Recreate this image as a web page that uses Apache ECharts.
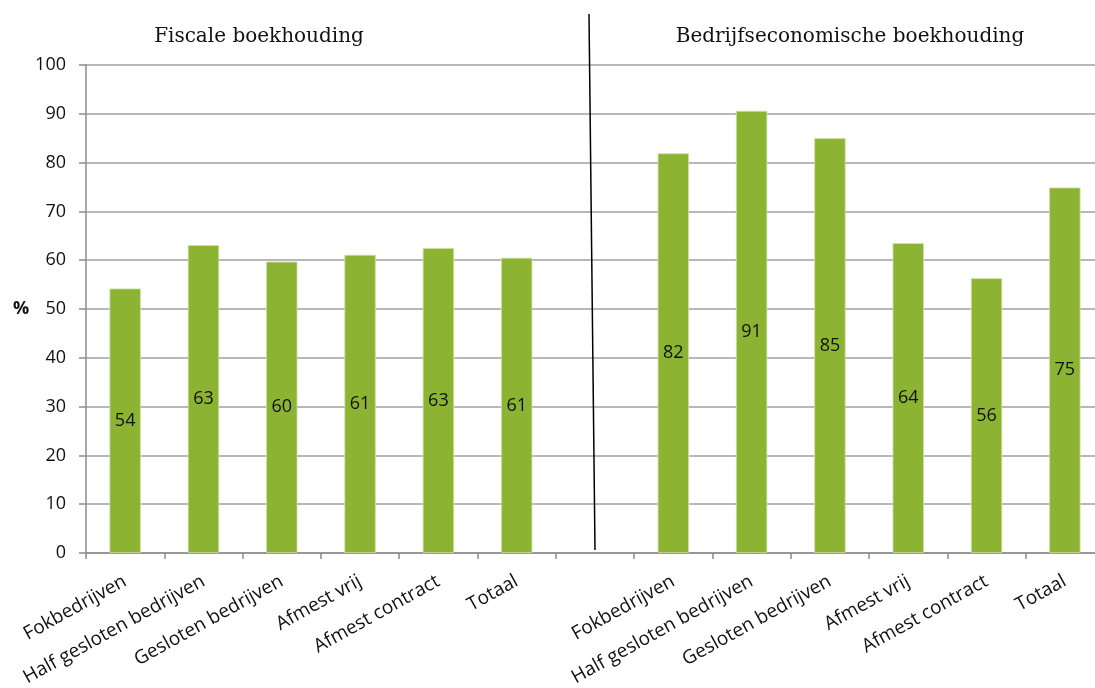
<!DOCTYPE html>
<html>
<head>
<meta charset="utf-8">
<script src="https://cdn.jsdelivr.net/npm/echarts@6/dist/echarts.min.js"></script>
<style>
html,body{margin:0;padding:0;background:#fff;}
#c{width:1095px;height:688px;}
</style>
</head>
<body>
<div id="c"></div>
<script>
const categories = [
  'Fokbedrijven','Half gesloten bedrijven','Gesloten bedrijven','Afmest vrij','Afmest contract','Totaal',
  '',
  'Fokbedrijven','Half gesloten bedrijven','Gesloten bedrijven','Afmest vrij','Afmest contract','Totaal'
];
const fiscaleValues = [54.2, 63.1, 59.7, 61.1, 62.5, 60.5];
const bedrijfsValues = [81.9, 90.6, 85.0, 63.5, 56.3, 74.9];
const gapValue = ['-'];
const panelTitles = ['Fiscale boekhouding', 'Bedrijfseconomische boekhouding'];
const yMin = 0, yMax = 100, yInterval = 10;
const yName = '%';

const values = fiscaleValues.concat(gapValue, bedrijfsValues);

const chart = echarts.init(document.getElementById('c'), null, {renderer: 'canvas'});
const sansFont = 'Open Sans';
const titleStyle = {fontFamily: 'DejaVu Serif', fontSize: 20, fontWeight: 'normal', color: '#111'};
const option = {
  animation: false,
  backgroundColor: '#ffffff',
  title: [
    {text: panelTitles[0], left: 254, top: 22, textAlign: 'center', textStyle: titleStyle},
    {text: panelTitles[1], left: 845, top: 22, textAlign: 'center', textStyle: titleStyle}
  ],
  grid: {left: 86, top: 65, width: 1018, height: 488, containLabel: false, outerBoundsMode: 'none'},
  xAxis: {
    type: 'category',
    data: categories,
    axisLine: {lineStyle: {color: '#8c8c8c', width: 1.5}},
    axisTick: {show: true, alignWithLabel: false, length: 6, lineStyle: {color: '#8c8c8c', width: 1.5}},
    axisLabel: {rotate: 29, interval: 0, margin: 27, fontFamily: sansFont, fontSize: 19, color: '#111'}
  },
  yAxis: {
    type: 'value',
    min: yMin, max: yMax, interval: yInterval,
    name: yName,
    nameLocation: 'middle',
    nameRotate: 0,
    nameGap: 56,
    nameTextStyle: {fontFamily: sansFont, fontSize: 18, fontWeight: 'bold', color: '#111'},
    axisLine: {show: true, lineStyle: {color: '#8c8c8c', width: 1.5}},
    axisTick: {show: true, length: 7, lineStyle: {color: '#8c8c8c', width: 1.5}},
    axisLabel: {margin: 20, fontFamily: sansFont, fontSize: 18, color: '#111'},
    splitLine: {lineStyle: {color: '#a0a0a0', width: 1.5}}
  },
  series: [{
    type: 'bar',
    data: values,
    barWidth: '40%',
    itemStyle: {color: '#8db333', borderColor: '#cfe0a6', borderWidth: 0.8},
    label: {
      show: true, position: 'inside',
      fontFamily: sansFont, fontSize: 18, color: '#111',
      formatter: p => Math.round(p.value)
    }
  }]
};
chart.setOption(option);

// separator line through the gap category
const gapIndex = fiscaleValues.length;
const bottom = chart.convertToPixel({gridIndex: 0}, [gapIndex, yMin]);
chart.setOption({
  graphic: [{
    type: 'line',
    shape: {x1: bottom[0] - 6, y1: 14, x2: bottom[0], y2: bottom[1] - 3},
    style: {stroke: '#000', lineWidth: 1.5},
    z: 100
  }]
});
</script>
</body>
</html>
